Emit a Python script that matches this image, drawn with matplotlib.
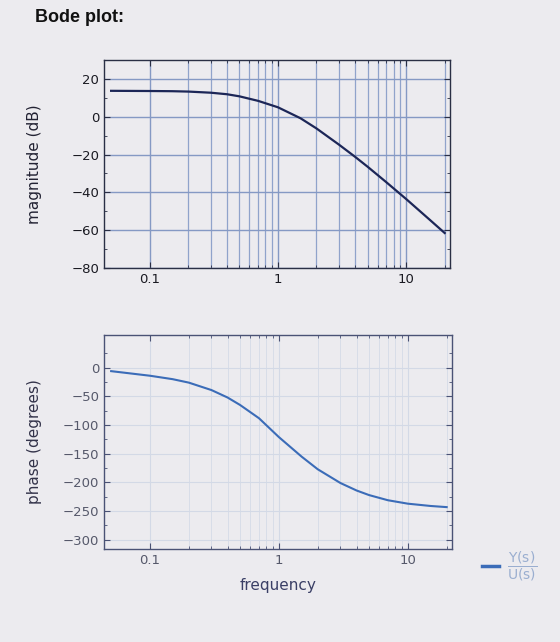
'''
Bode plot of Y(s)/U(s): magnitude and phase against frequency
'''
import matplotlib
matplotlib.use('Agg')
import matplotlib.pyplot as plt
from matplotlib.ticker import FixedLocator, NullFormatter

#Values
freq = [0.05, 0.1, 0.15, 0.2, 0.3, 0.4, 0.5, 0.7, 1, 1.5, 2, 3, 4, 5, 7, 10, 15, 20]

mag_db = [13.7, 13.6, 13.5, 13.3, 12.7, 11.9, 10.8, 8.4, 5.0, -0.8, -6.2,
          -14.8, -21.2, -26.4, -34.6, -43.5, -54.0, -61.5]

phase_deg = [-6, -14, -20, -26, -39, -52, -65, -88, -121, -155, -177,
             -201, -214, -222, -231, -237, -241, -243]

mag_ticks = [20, 0, -20, -40, -60, -80]
phase_ticks = [0, -50, -100, -150, -200, -250, -300]
freq_ticks = [0.1, 1, 10]
freq_labels = ['0.1', '1', '10']
minor_freqs = [0.2, 0.3, 0.4, 0.5, 0.6, 0.7, 0.8, 0.9,
               2, 3, 4, 5, 6, 7, 8, 9, 20]

bg = '#ecebef'

fig = plt.figure(figsize=(5.6, 6.42), dpi=100, facecolor=bg)

ax_mag = fig.add_axes([104/560, 1 - 268/642, 346/560, 208/642], facecolor=bg)
ax_ph = fig.add_axes([104/560, 1 - 549/642, 348/560, 214/642], facecolor=bg)

#Magnitude
ax_mag.semilogx(freq, mag_db, color='#1c2657', linewidth=1.6)
ax_mag.set_xlim(0.044, 22)
ax_mag.set_ylim(-80, 30)
ax_mag.set_yticks(mag_ticks)
ax_mag.set_ylabel('magnitude (dB)', fontsize=11, color='#222233')
ax_mag.yaxis.set_label_coords(-0.179, 0.5)
ax_mag.grid(True, which='major', color='#8599c4', linewidth=1.0)
ax_mag.grid(True, which='minor', axis='x', color='#90a3cb', linewidth=0.9)

#Phase
ax_ph.semilogx(freq, phase_deg, color='#3b6cb8', linewidth=1.5)
ax_ph.set_xlim(0.044, 22)
ax_ph.set_ylim(-316, 57)
ax_ph.set_yticks(phase_ticks)
ax_ph.set_ylabel('phase (degrees)', fontsize=11, color='#33334a')
ax_ph.yaxis.set_label_coords(-0.178, 0.5)
ax_ph.set_xlabel('frequency', fontsize=11, color='#3a3f66', labelpad=8)
ax_ph.grid(True, which='major', color='#d3d9e6', linewidth=0.8)
ax_ph.grid(True, which='minor', axis='x', color='#d8dde8', linewidth=0.7)

for ax, frame, lab in [(ax_mag, '#2a2f45', '#1a1a22'),
                       (ax_ph, '#4a5275', '#55586a')]:
    ax.set_xticks(freq_ticks)
    ax.set_xticklabels(freq_labels)
    ax.xaxis.set_minor_locator(FixedLocator(minor_freqs))
    ax.xaxis.set_minor_formatter(NullFormatter())
    ax.tick_params(which='both', direction='in', top=True, right=True,
                   color=frame, labelsize=9.5, labelcolor=lab)
    ax.tick_params(which='major', length=4)
    ax.tick_params(which='minor', length=2)
    for spine in ax.spines.values():
        spine.set_color(frame)
        spine.set_linewidth(1.0)
    ax.set_axisbelow(True)

ax_mag.set_yticks([10, -10, -30, -50, -70], minor=True)
ax_ph.set_yticks([25, -25, -75, -125, -175, -225, -275], minor=True)

#Legend with the transfer function
handle, = ax_ph.plot([], [], color='#3b6cb8', linewidth=2.5,
                     label=r'$\dfrac{\mathrm{Y(s)}}{\mathrm{U(s)}}$')
ax_ph.legend(handles=[handle], loc='center left', bbox_to_anchor=(1.05, -0.08),
             frameon=False, fontsize=10, labelcolor='#9aaed0',
             handlelength=1.2, handletextpad=0.6)

fig.text(35/560, 1 - 18/642, 'Bode plot:', fontsize=13, fontweight='bold',
         family='Liberation Sans', color='#111111', va='center', ha='left')

fig.savefig('out.png', dpi=100, facecolor=bg)
